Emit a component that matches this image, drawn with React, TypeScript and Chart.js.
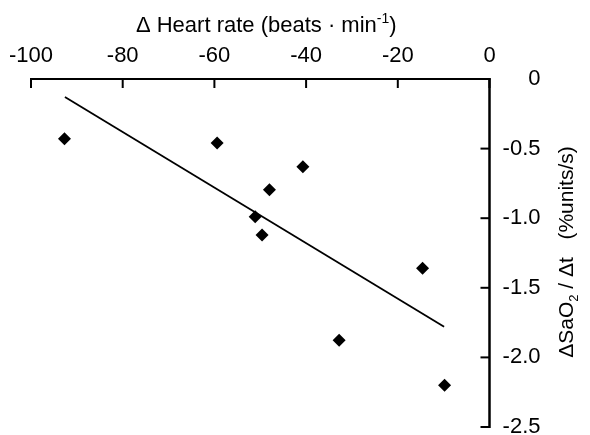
import React, { useEffect, useRef } from "react";
import { Chart, registerables } from "chart.js";

Chart.register(...registerables);

// ---- data ----
const heartRateChange = [-92.7, -59.4, -40.7, -48.0, -51.1, -49.6, -14.6, -32.8, -9.8];
const saO2Slope = [-0.43, -0.46, -0.63, -0.795, -0.99, -1.12, -1.36, -1.877, -2.2];
const fitX = [-92.6, -9.9];
const fitY = [-0.13, -1.78];

const xTicks = [-100, -80, -60, -40, -20, 0];
const yTicks = [0, -0.5, -1.0, -1.5, -2.0, -2.5];

const X_MIN = -100;
const X_MAX = 0;
const Y_MIN = -2.5;
const Y_MAX = 0;

const FONT = "'Liberation Sans', Arial, Helvetica, sans-serif";
const FONT_SIZE = 21;
const TICK_SIZE = 22;

type Part = { t: string; sub?: boolean; sup?: boolean };

const xTitle: Part[] = [
  { t: "\u0394 Heart rate (beats \u00b7 min" },
  { t: "-1", sup: true },
  { t: ")" },
];
const yTitle: Part[] = [
  { t: "\u0394SaO" },
  { t: "2", sub: true },
  { t: " / \u0394t   (%units/s)" },
];

function drawRich(ctx: CanvasRenderingContext2D, parts: Part[], cx: number, baseY: number, size: number) {
  const big = `${size}px ${FONT}`;
  const small = `${Math.round(size * 0.64)}px ${FONT}`;
  let total = 0;
  const widths = parts.map((p) => {
    ctx.font = p.sub || p.sup ? small : big;
    const w = ctx.measureText(p.t).width;
    total += w;
    return w;
  });
  let x = cx - total / 2;
  ctx.textAlign = "left";
  ctx.textBaseline = "alphabetic";
  parts.forEach((p, i) => {
    ctx.font = p.sub || p.sup ? small : big;
    let dy = 0;
    if (p.sup) dy = -size * 0.4;
    if (p.sub) dy = size * 0.25;
    ctx.fillText(p.t, x, baseY + dy);
    x += widths[i];
  });
}

const axesPlugin = {
  id: "axesAndTitles",
  afterDraw(chart: any) {
    const ctx: CanvasRenderingContext2D = chart.ctx;
    const xs = chart.scales.x;
    const ys = chart.scales.y;
    const left = xs.getPixelForValue(X_MIN);
    const right = xs.getPixelForValue(X_MAX);
    const top = ys.getPixelForValue(Y_MAX);
    const bottom = ys.getPixelForValue(Y_MIN);
    ctx.save();
    ctx.strokeStyle = "#000";
    ctx.fillStyle = "#000";
    // top axis
    ctx.lineWidth = 2;
    ctx.beginPath();
    ctx.moveTo(left - 1, top);
    ctx.lineTo(right + 1, top);
    ctx.stroke();
    xTicks.forEach((v) => {
      const px = xs.getPixelForValue(v);
      ctx.beginPath();
      ctx.moveTo(px, top);
      ctx.lineTo(px, top + 9);
      ctx.stroke();
    });
    // right axis
    ctx.lineWidth = 2.5;
    ctx.beginPath();
    ctx.moveTo(right, top - 1);
    ctx.lineTo(right, bottom + 1);
    ctx.stroke();
    ctx.lineWidth = 2;
    yTicks.forEach((v) => {
      const py = ys.getPixelForValue(v);
      ctx.beginPath();
      ctx.moveTo(right, py);
      ctx.lineTo(right - 9, py);
      ctx.stroke();
    });
    // titles
    drawRich(ctx, xTitle, (left + right) / 2 + 6, 32, FONT_SIZE + 1);
    ctx.translate(573, 252);
    ctx.rotate(-Math.PI / 2);
    drawRich(ctx, yTitle, 0, 0, FONT_SIZE);
    ctx.restore();
  },
};

export default function App() {
  const ref = useRef<HTMLCanvasElement | null>(null);
  useEffect(() => {
    if (!ref.current) return;
    const chart = new Chart(ref.current, {
      type: "scatter",
      data: {
        datasets: [
          {
            type: "line",
            data: fitX.map((x, i) => ({ x, y: fitY[i] })),
            borderColor: "#000",
            borderWidth: 1.8,
            pointRadius: 0,
            fill: false,
          } as any,
          {
            type: "scatter",
            data: heartRateChange.map((x, i) => ({ x, y: saO2Slope[i] })),
            pointStyle: "rectRot",
            pointRadius: 6.5,
            backgroundColor: "#000",
            borderColor: "#000",
            borderWidth: 0,
          },
        ],
      },
      options: {
        animation: false,
        responsive: false,
        layout: { padding: { left: 31, right: 49.5, top: 0, bottom: 8 } },
        plugins: { legend: { display: false }, tooltip: { enabled: false } },
        scales: {
          x: {
            type: "linear",
            position: "top",
            min: X_MIN,
            max: X_MAX,
            grid: { display: false, drawTicks: false },
            border: { display: false },
            ticks: {
              stepSize: 20,
              padding: 10,
              color: "#000",
              font: { family: FONT, size: TICK_SIZE },
              callback: (v: any) => String(v),
            },
            afterFit: (s: any) => {
              s.height = 79;
              s.paddingLeft = 0;
              s.paddingRight = 0;
            },
          },
          y: {
            type: "linear",
            position: "right",
            min: Y_MIN,
            max: Y_MAX,
            grid: { display: false, drawTicks: false },
            border: { display: false },
            ticks: {
              stepSize: 0.5,
              padding: 15,
              crossAlign: "far",
              color: "#000",
              font: { family: FONT, size: TICK_SIZE },
              callback: (v: any) => (Number(v) === 0 ? "0" : Number(v).toFixed(1)),
            },
            afterFit: (s: any) => {
              s.width = 51;
              s.paddingTop = 0;
              s.paddingBottom = 0;
            },
          },
        },
      },
      plugins: [axesPlugin],
    });
    return () => chart.destroy();
  }, []);
  return (
    <div style={{ position: "absolute", left: 0, top: 0, width: 590, height: 435, background: "#fff" }}>
      <canvas ref={ref} width={590} height={435} />
    </div>
  );
}
